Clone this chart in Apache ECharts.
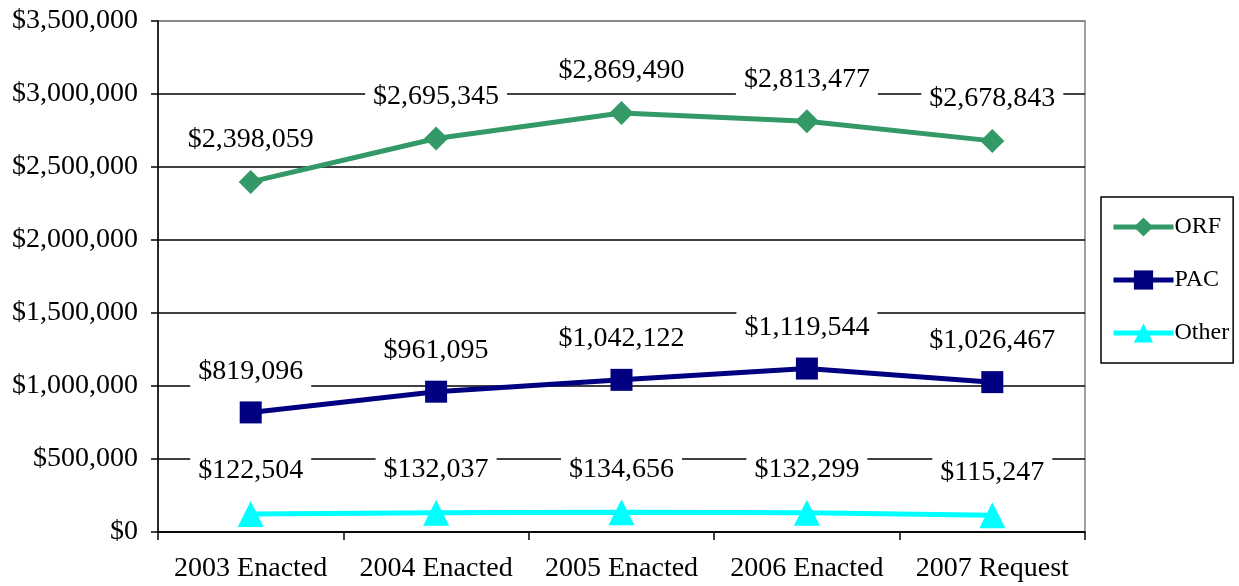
<!DOCTYPE html>
<html><head><meta charset="utf-8">
<script src="https://cdn.jsdelivr.net/npm/echarts@6/dist/echarts.min.js"></script>
<style>html,body{margin:0;padding:0;background:#fff}#c{width:1239px;height:586px}</style>
</head><body><div id="c"></div>
<script>
const categories = ['2003 Enacted','2004 Enacted','2005 Enacted','2006 Enacted','2007 Request'];
const orf = [2398059, 2695345, 2869490, 2813477, 2678843];
const pac = [819096, 961095, 1042122, 1119544, 1026467];
const other = [122504, 132037, 134656, 132299, 115247];
const yTicks = [0,500000,1000000,1500000,2000000,2500000,3000000,3500000];

const FONT = "'Liberation Serif', 'Times New Roman', serif";
const money = v => '$' + Math.round(v).toLocaleString('en-US');

function mkSeries(name, data, color, symbol, size) {
  return {
    name, type: 'line', data, symbol, symbolSize: size,
    lineStyle: {color, width: 5},
    itemStyle: {color},
    label: {
      show: true, position: 'top', distance: 13,
      formatter: p => money(p.value),
      fontFamily: FONT, fontSize: 28, color: '#000',
      backgroundColor: '#fff', padding: [3, 8]
    },
    z: 3
  };
}

const chart = echarts.init(document.getElementById('c'));
chart.setOption({
  animation: false,
  textStyle: {fontFamily: FONT},
  grid: {left: 158, right: 154, top: 21, bottom: 54, show: true, borderColor: '#808080', borderWidth: 1.5},
  legend: {
    orient: 'vertical', left: 1101, top: 197,
    padding: [18, 4, 18, 10], itemWidth: 60, itemHeight: 24, itemGap: 29,
    borderColor: '#000', borderWidth: 1.5,
    lineStyle: {width: 5},
    textStyle: {fontFamily: FONT, fontSize: 24, color: '#000', padding: [0,0,0,-4]},
    data: ['ORF','PAC','Other']
  },
  xAxis: {
    type: 'category', data: categories, boundaryGap: true,
    axisLine: {lineStyle: {color: '#000', width: 1.5}},
    axisTick: {show: true, length: 8, interval: 0, lineStyle: {color: '#000', width: 1.5}},
    axisLabel: {fontFamily: FONT, fontSize: 28, color: '#000', margin: 23, interval: 0},
    splitLine: {show: false}
  },
  yAxis: {
    type: 'value', min: 0, max: 3500000, interval: 500000,
    axisLine: {show: true, lineStyle: {color: '#000', width: 1.5}},
    axisTick: {show: true, length: 7, lineStyle: {color: '#000', width: 1.5}},
    axisLabel: {fontFamily: FONT, fontSize: 28, color: '#000', margin: 20,
      formatter: v => yTicks.includes(v) ? money(v) : ''},
    splitLine: {show: true, lineStyle: {color: ['#000','#000','#000','#000','#000','#000','#000','#808080'], width: 1.5}}
  },
  series: [
    mkSeries('ORF', orf, '#339966', 'diamond', 24),
    mkSeries('PAC', pac, '#000080', 'rect', 22),
    mkSeries('Other', other, '#00FFFF', 'triangle', 26)
  ]
});
</script></body></html>
